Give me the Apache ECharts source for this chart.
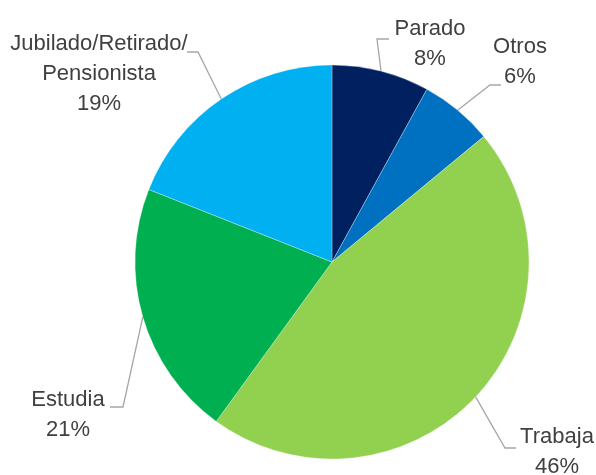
<!DOCTYPE html>
<html>
<head>
<meta charset="utf-8">
<script src="https://cdn.jsdelivr.net/npm/echarts@6/dist/echarts.min.js"></script>
<style>
  html, body { margin: 0; padding: 0; background: #fff; }
  #chart { width: 596px; height: 475px; }
</style>
</head>
<body>
<div id="chart"></div>
<script>
// clockwise from 12 o'clock
const categories = ['Parado', 'Otros', 'Trabaja', 'Estudia', 'Jubilado/Retirado/Pensionista'];
const shares = [8, 6, 46, 21, 19];
const colors = ['#002060', '#0070C0', '#92D050', '#00B050', '#00B0F0'];

// where Excel left each label: text centre x, text top y, and the leader's elbow / end
const labelSpots = {
  'Parado':   { x: 430, y: 14,  elbow: [377, 39],  end: [389, 39] },
  'Otros':    { x: 520, y: 32,  elbow: [490, 85],  end: [501, 85] },
  'Trabaja':  { x: 557, y: 422, elbow: [505, 448], end: [516, 448] },
  'Estudia':  { x: 68,  y: 385, elbow: [123, 407], end: [110, 407] },
  'Jubilado/Retirado/Pensionista': { x: 99, y: 29, elbow: [198, 52], end: [187, 52] }
};

const chart = echarts.init(document.getElementById('chart'));

const data = categories.map(function (name, i) {
  return { name: name, value: shares[i], itemStyle: { color: colors[i] } };
});

chart.setOption({
  animation: false,
  series: [{
    type: 'pie',
    center: [332, 262],
    radius: 197,
    startAngle: 90,
    clockwise: true,
    avoidLabelOverlap: false,
    itemStyle: { borderColor: '#fff', borderWidth: 0.3 },
    label: {
      show: true,
      position: 'outside',
      formatter: function (p) {
        return p.name.replace('Retirado/', 'Retirado/\n') + '\n' + p.value + '%';
      },
      fontFamily: '"Liberation Sans Narrow", "Arial Narrow", "Liberation Sans", sans-serif',
      fontSize: 22,
      lineHeight: 30,
      color: '#404040'
    },
    labelLine: {
      show: true,
      length: 20,
      length2: 10,
      lineStyle: { color: '#A6A6A6', width: 1.3 }
    },
    labelLayout: function (params) {
      const name = categories[params.dataIndex];
      const spot = labelSpots[name];
      const start = params.labelLinePoints ? params.labelLinePoints[0] : spot.elbow;
      return {
        x: spot.x,
        y: spot.y,
        align: 'center',
        verticalAlign: 'top',
        labelLinePoints: [start, spot.elbow, spot.end]
      };
    },
    data: data
  }]
});
</script>
</body>
</html>
